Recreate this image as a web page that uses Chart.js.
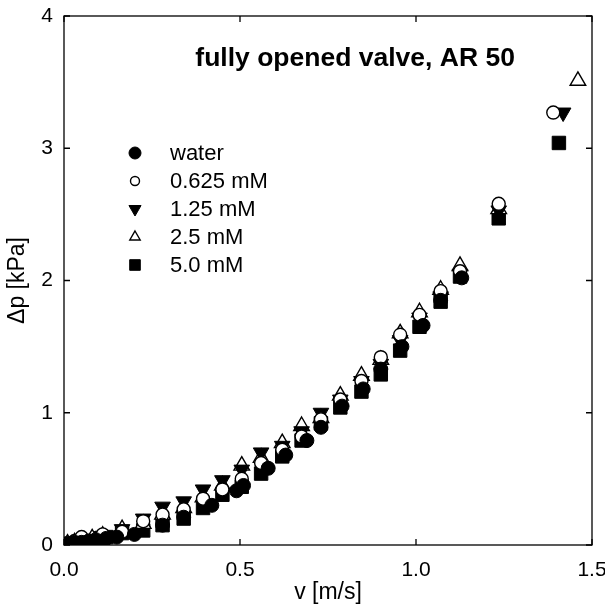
<!DOCTYPE html>
<html>
<head>
<meta charset="utf-8">
<script src="https://cdn.jsdelivr.net/npm/chart.js@4/dist/chart.umd.min.js"></script>
<style>
  html, body { margin: 0; padding: 0; background: #fff; }
  #wrap { width: 605px; height: 608px; }
</style>
</head>
<body>
<div id="wrap"><canvas id="grafico" width="605" height="608"></canvas></div>
<script>
const FONT = "'Liberation Sans', Arial, sans-serif";

const titulo = "fully opened valve, AR 50";
const ejeX = "v [m/s]";
const ejeY = "\u0394p [kPa]";
const ticksX = [0, 0.5, 1.0, 1.5];
const ticksY = [0, 1, 2, 3, 4];

// water
const aguaX = [0.01, 0.02, 0.03, 0.05, 0.07, 0.09, 0.12, 0.15, 0.20, 0.28, 0.34, 0.42, 0.49, 0.51, 0.58, 0.63, 0.69, 0.73, 0.79, 0.85, 0.90, 0.96, 1.02, 1.07, 1.13];
const aguaY = [0.01, 0.01, 0.02, 0.02, 0.03, 0.04, 0.05, 0.06, 0.08, 0.15, 0.21, 0.30, 0.41, 0.45, 0.58, 0.68, 0.79, 0.89, 1.05, 1.18, 1.33, 1.50, 1.66, 1.85, 2.02];

// 0.625 mM
const c0625X = [0.01, 0.03, 0.05, 0.11, 0.165, 0.225, 0.28, 0.34, 0.395, 0.45, 0.505, 0.56, 0.62, 0.675, 0.73, 0.785, 0.845, 0.90, 0.955, 1.01, 1.07, 1.125, 1.235, 1.39];
const c0625Y = [0.01, 0.03, 0.06, 0.08, 0.10, 0.18, 0.23, 0.27, 0.35, 0.42, 0.50, 0.62, 0.72, 0.82, 0.95, 1.10, 1.24, 1.42, 1.59, 1.74, 1.92, 2.07, 2.58, 3.27];

// 1.25 mM
const c125X = [0.01, 0.03, 0.05, 0.08, 0.11, 0.165, 0.225, 0.28, 0.34, 0.395, 0.45, 0.505, 0.56, 0.62, 0.675, 0.73, 0.785, 0.845, 0.90, 0.955, 1.01, 1.07, 1.125, 1.235, 1.418];
const c125Y = [0.01, 0.02, 0.03, 0.04, 0.07, 0.12, 0.20, 0.29, 0.33, 0.42, 0.49, 0.57, 0.70, 0.75, 0.86, 1.00, 1.10, 1.24, 1.37, 1.55, 1.72, 1.88, 2.05, 2.53, 3.27];

// 2.5 mM
const c25X = [0.01, 0.03, 0.05, 0.08, 0.11, 0.165, 0.225, 0.28, 0.34, 0.395, 0.45, 0.505, 0.56, 0.62, 0.675, 0.73, 0.785, 0.845, 0.90, 0.955, 1.01, 1.07, 1.125, 1.235, 1.46];
const c25Y = [0.01, 0.02, 0.03, 0.05, 0.07, 0.12, 0.16, 0.23, 0.28, 0.36, 0.45, 0.60, 0.66, 0.77, 0.90, 0.96, 1.13, 1.28, 1.40, 1.60, 1.76, 1.93, 2.11, 2.54, 3.51];

// 5.0 mM
const c50X = [0.02, 0.04, 0.07, 0.10, 0.12, 0.165, 0.225, 0.28, 0.34, 0.395, 0.45, 0.505, 0.56, 0.62, 0.675, 0.73, 0.785, 0.845, 0.90, 0.955, 1.01, 1.07, 1.125, 1.235, 1.406];
const c50Y = [0.01, 0.02, 0.03, 0.05, 0.06, 0.09, 0.11, 0.15, 0.20, 0.28, 0.38, 0.44, 0.54, 0.67, 0.79, 0.92, 1.04, 1.16, 1.29, 1.47, 1.65, 1.84, 2.03, 2.47, 3.04];

function puntos(xs, ys) {
  return xs.map((x, i) => ({ x, y: ys[i] }));
}

function serie(label, xs, ys, estilo, relleno, radio, radioLeyenda, rotacion) {
  return {
    label,
    data: puntos(xs, ys),
    showLine: false,
    pointStyle: estilo,
    pointRotation: rotacion || 0,
    pointRadius: radio,
    pointHoverRadius: radio,
    pointBackgroundColor: relleno ? "#000" : "#fff",
    pointBorderColor: "#000",
    pointBorderWidth: relleno ? 1 : 1.4,
    radioLeyenda
  };
}

// marco con ticks hacia dentro en los cuatro lados, titulo y leyenda
const marco = {
  id: "marco",
  afterDraw(chart) {
    const ctx = chart.ctx;
    const a = chart.chartArea;
    const sx = chart.scales.x;
    const sy = chart.scales.y;
    const L = 6;
    ctx.save();
    ctx.strokeStyle = "#000";
    ctx.lineWidth = 1.3;
    ctx.strokeRect(a.left, a.top, a.right - a.left, a.bottom - a.top);
    ctx.beginPath();
    ticksX.forEach(v => {
      const px = sx.getPixelForValue(v);
      ctx.moveTo(px, a.bottom); ctx.lineTo(px, a.bottom - L);
      ctx.moveTo(px, a.top); ctx.lineTo(px, a.top + L);
    });
    ticksY.forEach(v => {
      const py = sy.getPixelForValue(v);
      ctx.moveTo(a.left, py); ctx.lineTo(a.left + L, py);
      ctx.moveTo(a.right, py); ctx.lineTo(a.right - L, py);
    });
    ctx.stroke();

    ctx.fillStyle = "#000";
    ctx.font = "bold 26.5px " + FONT;
    ctx.textAlign = "center";
    ctx.textBaseline = "middle";
    ctx.fillText(titulo, sx.getPixelForValue(0.827), sy.getPixelForValue(3.68));

    // leyenda
    ctx.font = "22px " + FONT;
    ctx.textAlign = "left";
    const x0 = 135, y0 = 153, paso = 28;
    chart.data.datasets.forEach((ds, i) => {
      const y = y0 + i * paso;
      ctx.fillStyle = ds.pointBackgroundColor;
      ctx.strokeStyle = ds.pointBorderColor;
      ctx.lineWidth = ds.pointBorderWidth;
      Chart.helpers.drawPoint(ctx, { pointStyle: ds.pointStyle, rotation: ds.pointRotation, radius: ds.radioLeyenda, borderWidth: ds.pointBorderWidth }, x0, y);
      ctx.fillStyle = "#000";
      ctx.fillText(ds.label, 170, y + 1);
    });
    ctx.restore();
  }
};

new Chart(document.getElementById("grafico"), {
  type: "scatter",
  data: {
    datasets: [
      serie("water", aguaX, aguaY, "circle", true, 7, 6),
      serie("0.625 mM", c0625X, c0625Y, "circle", false, 6.5, 4.5),
      serie("1.25 mM", c125X, c125Y, "triangle", true, 9, 7, 180),
      serie("2.5 mM", c25X, c25Y, "triangle", false, 9, 6),
      serie("5.0 mM", c50X, c50Y, "rect", true, 9.5, 7.5)
    ]
  },
  options: {
    responsive: false,
    animation: false,
    events: [],
    layout: { padding: { top: 16, right: 13, left: 0, bottom: 0 } },
    plugins: {
      legend: { display: false },
      tooltip: { enabled: false }
    },
    scales: {
      x: {
        type: "linear",
        min: 0,
        max: 1.5,
        afterBuildTicks: s => { s.ticks = ticksX.map(v => ({ value: v })); },
        afterFit: s => { s.height = 63; s.paddingLeft = 0; s.paddingRight = 0; },
        grid: { display: false, drawTicks: false },
        border: { display: false },
        ticks: {
          color: "#000",
          font: { family: FONT, size: 21 },
          padding: 13,
          maxRotation: 0,
          callback: v => Number(v).toFixed(1)
        },
        title: {
          display: true,
          text: ejeX,
          color: "#000",
          font: { family: FONT, size: 23 },
          padding: { top: 0, bottom: 2 }
        }
      },
      y: {
        type: "linear",
        min: 0,
        max: 4,
        afterBuildTicks: s => { s.ticks = ticksY.map(v => ({ value: v })); },
        afterFit: s => { s.width = 64; s.paddingTop = 0; s.paddingBottom = 0; },
        grid: { display: false, drawTicks: false },
        border: { display: false },
        ticks: {
          color: "#000",
          font: { family: FONT, size: 21 },
          padding: 11,
          callback: v => String(v)
        },
        title: {
          display: true,
          text: ejeY,
          color: "#000",
          font: { family: FONT, size: 23 },
          padding: { top: 4, bottom: 0 }
        }
      }
    }
  },
  plugins: [marco]
});
</script>
</body>
</html>
